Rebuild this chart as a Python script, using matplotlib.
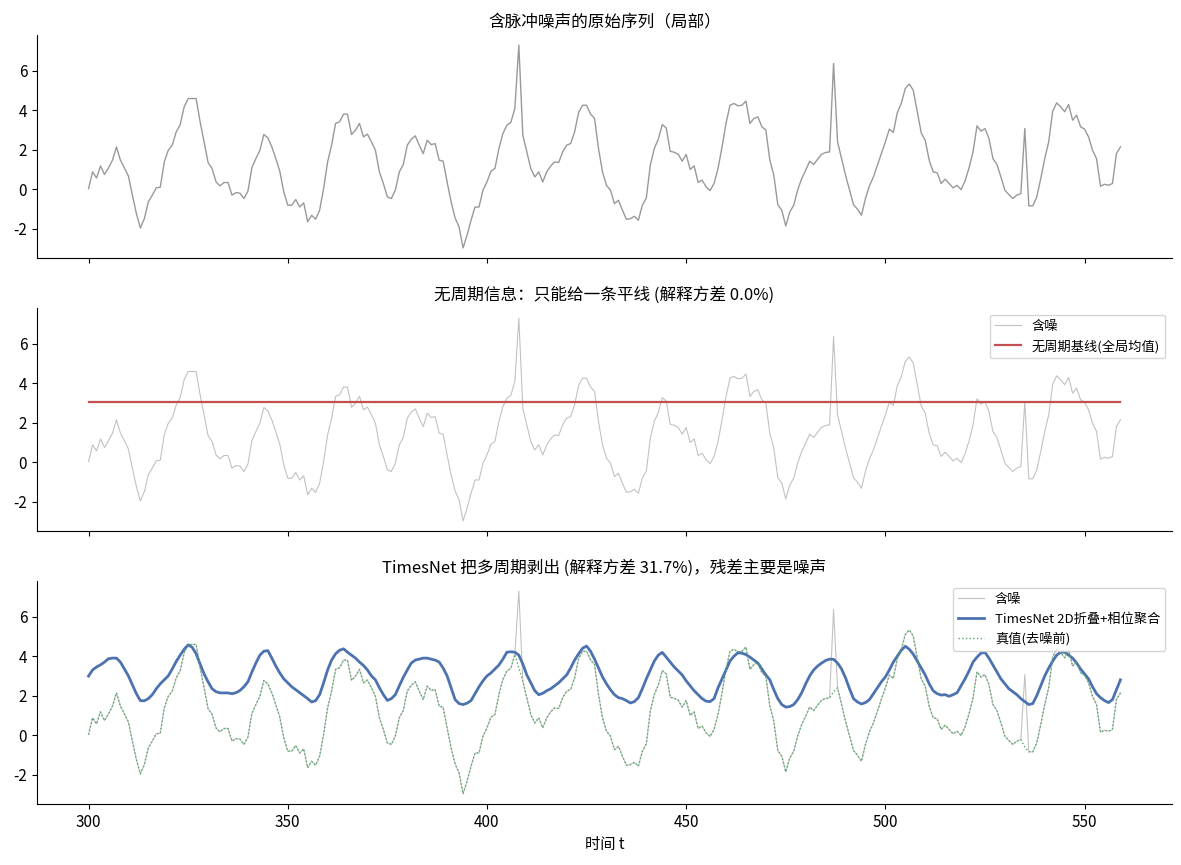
import numpy as np
import matplotlib
matplotlib.use("Agg")
import matplotlib.pyplot as plt

plt.rcParams['font.family'] = ['Noto Sans CJK SC', 'DejaVu Sans']
plt.rcParams['axes.unicode_minus'] = False

# time axis (local window)
t_start = 300

# true (pre-noise) signal, t = 300 .. 559
true_vals = [
    0.03, 0.88, 0.57, 1.18, 0.74, 1.08, 1.47, 2.14, 1.47, 1.08,
    0.67, -0.30, -1.23, -1.96, -1.49, -0.64, -0.30, 0.07, 0.10, 1.38,
    1.97, 2.23, 2.90, 3.27, 4.17, 4.59, 4.59, 4.59, 3.41, 2.40,
    1.35, 1.05, 0.37, 0.17, 0.34, 0.34, -0.30, -0.17, -0.20, -0.47,
    -0.10, 1.10, 1.55, 1.97, 2.77, 2.60, 2.14, 1.55, 0.91, -0.14,
    -0.81, -0.81, -0.52, -0.90, -0.69, -1.65, -1.32, -1.52, -1.06, 0.03,
    1.38, 2.23, 3.33, 3.41, 3.80, 3.80, 2.77, 2.99, 3.33, 2.65,
    2.79, 2.40, 1.97, 0.88, 0.29, -0.39, -0.47, -0.05, 0.88, 1.25,
    2.23, 2.53, 2.70, 2.23, 1.80, 2.48, 2.26, 2.31, 1.47, 1.42,
    0.37, -0.64, -1.45, -1.91, -2.97, -2.33, -1.57, -0.90, -0.90, -0.05,
    0.37, 0.91, 1.05, 2.06, 2.82, 3.24, 3.38, 4.09, 3.40, 2.73,
    1.89, 1.05, 0.62, 0.88, 0.37, 0.88, 1.18, 1.38, 1.35, 1.89,
    2.23, 2.31, 2.90, 3.88, 4.25, 4.25, 3.80, 3.58, 2.06, 0.88,
    0.20, -0.05, -0.73, -0.56, -1.06, -1.52, -1.49, -1.37, -1.57, -0.81,
    -0.44, 1.22, 2.06, 2.53, 3.27, 3.10, 1.92, 1.87, 1.77, 1.42,
    1.76, 1.00, 1.18, 0.34, 0.46, 0.12, -0.07, 0.29, 1.05, 2.14,
    3.33, 4.25, 4.34, 4.22, 4.25, 4.46, 3.33, 3.58, 3.66, 3.16,
    2.99, 1.47, 0.71, -0.78, -1.06, -1.86, -1.15, -0.81, -0.03, 0.54,
    0.96, 1.42, 1.25, 1.52, 1.77, 1.86, 1.89, 2.20, 2.40, 1.55,
    0.71, -0.03, -0.78, -1.01, -1.32, -0.47, 0.17, 0.62, 1.22, 1.81,
    2.40, 3.04, 2.87, 3.88, 4.34, 5.10, 5.32, 5.01, 3.92, 2.85,
    2.48, 1.47, 0.88, 0.83, 0.29, 0.51, 0.29, 0.07, 0.20, -0.02,
    0.42, 1.08, 1.89, 3.21, 2.94, 3.07, 2.57, 1.55, 1.25, 0.62,
    -0.05, -0.27, -0.47, -0.30, -0.22, -0.60, -0.84, -0.84, -0.39, 0.54,
    1.55, 2.40, 3.95, 4.37, 4.17, 3.92, 4.29, 3.49, 3.75, 3.16,
    3.04, 2.65, 1.97, 1.55, 0.15, 0.25, 0.20, 0.29, 1.81, 2.14,
]

# impulse noise: positions and observed values
spike_t = [408, 487, 535]
spike_vals = [7.29, 6.36, 3.07]

# TimesNet reconstruction (2D folding + phase aggregation)
timesnet_vals = [
    2.99, 3.30, 3.45, 3.56, 3.70, 3.87, 3.90, 3.90, 3.70, 3.35,
    3.00, 2.55, 2.10, 1.75, 1.74, 1.85, 2.05, 2.35, 2.60, 2.80,
    3.00, 3.35, 3.73, 4.05, 4.35, 4.57, 4.45, 4.12, 3.60, 3.10,
    2.70, 2.35, 2.20, 2.14, 2.14, 2.14, 2.10, 2.15, 2.26, 2.45,
    2.70, 3.20, 3.65, 4.05, 4.25, 4.28, 3.90, 3.50, 3.15, 2.85,
    2.65, 2.45, 2.30, 2.15, 2.00, 1.85, 1.68, 1.75, 2.05, 2.65,
    3.30, 3.80, 4.12, 4.30, 4.37, 4.20, 4.05, 3.90, 3.70, 3.53,
    3.30, 3.00, 2.80, 2.40, 2.05, 1.76, 1.85, 2.05, 2.50, 2.93,
    3.30, 3.65, 3.80, 3.85, 3.90, 3.90, 3.85, 3.80, 3.70, 3.40,
    3.00, 2.40, 1.80, 1.60, 1.55, 1.62, 1.75, 2.10, 2.45, 2.75,
    3.00, 3.15, 3.35, 3.55, 3.85, 4.20, 4.22, 4.20, 4.05, 3.60,
    3.05, 2.65, 2.25, 2.05, 2.12, 2.25, 2.35, 2.50, 2.65, 2.85,
    3.05, 3.40, 3.80, 4.12, 4.40, 4.51, 4.25, 3.85, 3.40, 2.95,
    2.60, 2.30, 2.05, 1.90, 1.85, 1.75, 1.63, 1.70, 1.90, 2.35,
    2.85, 3.30, 3.75, 4.05, 4.19, 3.95, 3.70, 3.45, 3.25, 3.05,
    2.75, 2.50, 2.25, 2.05, 1.85, 1.72, 1.70, 1.85, 2.40, 2.85,
    3.30, 3.75, 4.00, 4.17, 4.15, 4.08, 3.95, 3.80, 3.65, 3.35,
    3.05, 2.80, 2.30, 1.85, 1.55, 1.42, 1.45, 1.55, 1.80, 2.15,
    2.60, 3.00, 3.30, 3.50, 3.65, 3.78, 3.85, 3.84, 3.65, 3.35,
    2.90, 2.35, 1.85, 1.68, 1.58, 1.65, 1.80, 2.10, 2.40, 2.70,
    2.95, 3.30, 3.70, 4.00, 4.30, 4.50, 4.35, 4.10, 3.75, 3.40,
    3.05, 2.60, 2.25, 2.10, 2.03, 2.05, 1.97, 2.05, 2.15, 2.50,
    2.85, 3.25, 3.70, 3.95, 4.15, 4.19, 3.90, 3.55, 3.20, 2.85,
    2.60, 2.35, 2.20, 2.05, 1.85, 1.70, 1.55, 1.60, 2.00, 2.50,
    3.00, 3.40, 3.75, 4.05, 4.20, 4.20, 4.05, 3.90, 3.65, 3.35,
    3.10, 2.85, 2.45, 2.10, 1.90, 1.75, 1.65, 1.80, 2.30, 2.80,
]

baseline_mean = 3.03
ev_baseline = 0.0
ev_timesnet = 31.7

t = np.arange(t_start, t_start + len(true_vals))
clean = np.array(true_vals)
noisy = clean.copy()
for st, sv in zip(spike_t, spike_vals):
    noisy[st - t_start] = sv

c_blue = '#4c72b0'
c_red = '#c44e52'
c_green = '#55a868'

fig, axes = plt.subplots(3, 1, figsize=(11.81, 8.65), dpi=100, sharex=True)
fig.subplots_adjust(left=0.0313, right=0.9924, top=0.9595, bottom=0.0705, hspace=0.224)

ax = axes[0]
ax.plot(t, noisy, color='#999999', lw=1.0)
ax.set_title('含脉冲噪声的原始序列（局部）', fontsize=12)

ax = axes[1]
ax.plot(t, noisy, color='#999999', lw=0.8, alpha=0.6, label='含噪')
ax.plot(t, np.full_like(clean, baseline_mean), color=c_red, lw=1.6,
        label='无周期基线(全局均值)')
ax.set_title(f'无周期信息：只能给一条平线 (解释方差 {ev_baseline:.1f}%)', fontsize=12)
ax.legend(loc='upper right', fontsize=9.5)

ax = axes[2]
ax.plot(t, noisy, color='#999999', lw=0.8, alpha=0.6, label='含噪')
ax.plot(t, timesnet_vals, color=c_blue, lw=2.0, label='TimesNet 2D折叠+相位聚合')
ax.plot(t, clean, color=c_green, lw=1.0, ls=':', label='真值(去噪前)')
ax.set_title(f'TimesNet 把多周期剥出 (解释方差 {ev_timesnet:.1f}%)，残差主要是噪声', fontsize=12)
ax.legend(loc='upper right', fontsize=9.5)
ax.set_xlabel('时间 t', fontsize=11)

for ax in axes:
    ax.spines['top'].set_visible(False)
    ax.spines['right'].set_visible(False)
    ax.tick_params(labelsize=11)

fig.savefig('out.png', dpi=100)
